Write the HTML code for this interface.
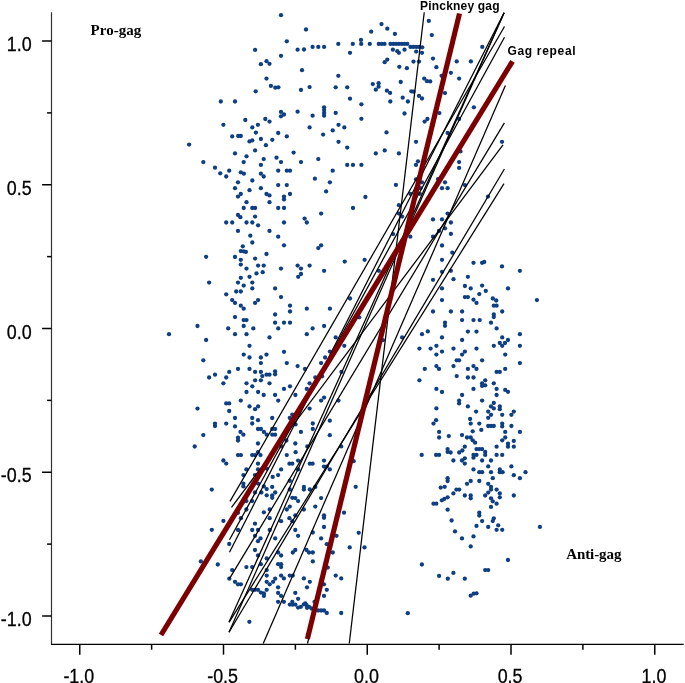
<!DOCTYPE html>
<html><head><meta charset="utf-8"><title>Gag rule votes</title>
<style>html,body{margin:0;padding:0;background:#fff}svg{display:block}</style></head>
<body>
<svg width="685" height="683" viewBox="0 0 685 683">
<rect width="685" height="683" fill="#fff"/>
<g fill="#0e3f83">
<circle cx="281" cy="15.2" r="2.15"/>
<circle cx="286.8" cy="41.3" r="2.15"/>
<circle cx="255.1" cy="49.9" r="2.15"/>
<circle cx="281" cy="55.8" r="2.15"/>
<circle cx="297.6" cy="49.7" r="2.15"/>
<circle cx="260.9" cy="64.2" r="2.15"/>
<circle cx="266.5" cy="61.2" r="2.15"/>
<circle cx="269.5" cy="63.8" r="2.15"/>
<circle cx="266.5" cy="78.6" r="2.15"/>
<circle cx="270.9" cy="85.9" r="2.15"/>
<circle cx="275.3" cy="87.7" r="2.15"/>
<circle cx="278.4" cy="87.3" r="2.15"/>
<circle cx="255.7" cy="91.3" r="2.15"/>
<circle cx="220.8" cy="101.5" r="2.15"/>
<circle cx="235" cy="101.5" r="2.15"/>
<circle cx="281" cy="111.9" r="2.15"/>
<circle cx="284" cy="114.5" r="2.15"/>
<circle cx="281" cy="116.3" r="2.15"/>
<circle cx="297.6" cy="111.7" r="2.15"/>
<circle cx="265.3" cy="119" r="2.15"/>
<circle cx="269.5" cy="121.6" r="2.15"/>
<circle cx="245.3" cy="120" r="2.15"/>
<circle cx="223.4" cy="124.8" r="2.15"/>
<circle cx="257.9" cy="124.8" r="2.15"/>
<circle cx="252.3" cy="127.4" r="2.15"/>
<circle cx="255.9" cy="132.6" r="2.15"/>
<circle cx="278.2" cy="133" r="2.15"/>
<circle cx="232.2" cy="136.4" r="2.15"/>
<circle cx="238.2" cy="136" r="2.15"/>
<circle cx="240.8" cy="136" r="2.15"/>
<circle cx="286.8" cy="136.4" r="2.15"/>
<circle cx="306" cy="29.5" r="2.15"/>
<circle cx="381.5" cy="24.1" r="2.15"/>
<circle cx="387.3" cy="28.7" r="2.15"/>
<circle cx="371.2" cy="31.7" r="2.15"/>
<circle cx="394.9" cy="33.9" r="2.15"/>
<circle cx="428.8" cy="20.9" r="2.15"/>
<circle cx="431.8" cy="35.1" r="2.15"/>
<circle cx="361" cy="39.9" r="2.15"/>
<circle cx="338.3" cy="43.9" r="2.15"/>
<circle cx="352.8" cy="43.9" r="2.15"/>
<circle cx="361.2" cy="43.9" r="2.15"/>
<circle cx="369.8" cy="43.9" r="2.15"/>
<circle cx="378.8" cy="43.9" r="2.15"/>
<circle cx="381.7" cy="43.9" r="2.15"/>
<circle cx="384.5" cy="43.9" r="2.15"/>
<circle cx="390.5" cy="43.9" r="2.15"/>
<circle cx="393.3" cy="43.9" r="2.15"/>
<circle cx="396.1" cy="43.9" r="2.15"/>
<circle cx="398.9" cy="43.9" r="2.15"/>
<circle cx="401.7" cy="43.9" r="2.15"/>
<circle cx="404.5" cy="43.9" r="2.15"/>
<circle cx="407.3" cy="43.9" r="2.15"/>
<circle cx="410.5" cy="46.9" r="2.15"/>
<circle cx="413.3" cy="46.9" r="2.15"/>
<circle cx="416.2" cy="46.9" r="2.15"/>
<circle cx="419" cy="46.9" r="2.15"/>
<circle cx="422.2" cy="47.3" r="2.15"/>
<circle cx="304" cy="49.5" r="2.15"/>
<circle cx="312.6" cy="46.9" r="2.15"/>
<circle cx="318.3" cy="46.9" r="2.15"/>
<circle cx="324.1" cy="46.9" r="2.15"/>
<circle cx="350" cy="52.8" r="2.15"/>
<circle cx="392.9" cy="49.7" r="2.15"/>
<circle cx="397.3" cy="51.2" r="2.15"/>
<circle cx="398.9" cy="52.8" r="2.15"/>
<circle cx="404.5" cy="49.7" r="2.15"/>
<circle cx="416.2" cy="51.6" r="2.15"/>
<circle cx="422" cy="52.8" r="2.15"/>
<circle cx="433" cy="58.6" r="2.15"/>
<circle cx="387.3" cy="59.6" r="2.15"/>
<circle cx="384.7" cy="62.2" r="2.15"/>
<circle cx="413.5" cy="61.6" r="2.15"/>
<circle cx="419" cy="61.6" r="2.15"/>
<circle cx="399.3" cy="66.8" r="2.15"/>
<circle cx="406.9" cy="68.2" r="2.15"/>
<circle cx="302" cy="70.2" r="2.15"/>
<circle cx="338.3" cy="75.8" r="2.15"/>
<circle cx="424.2" cy="78.6" r="2.15"/>
<circle cx="427" cy="81.2" r="2.15"/>
<circle cx="430.2" cy="81.4" r="2.15"/>
<circle cx="400.7" cy="82" r="2.15"/>
<circle cx="372.8" cy="84.1" r="2.15"/>
<circle cx="378.6" cy="83.2" r="2.15"/>
<circle cx="378.6" cy="86.7" r="2.15"/>
<circle cx="375.8" cy="89.7" r="2.15"/>
<circle cx="309.6" cy="87.1" r="2.15"/>
<circle cx="301" cy="89.9" r="2.15"/>
<circle cx="335.7" cy="87.3" r="2.15"/>
<circle cx="347.2" cy="87.3" r="2.15"/>
<circle cx="386.9" cy="90.7" r="2.15"/>
<circle cx="390.1" cy="92.9" r="2.15"/>
<circle cx="411.3" cy="91.3" r="2.15"/>
<circle cx="413.5" cy="91.7" r="2.15"/>
<circle cx="419" cy="95.9" r="2.15"/>
<circle cx="422" cy="98.5" r="2.15"/>
<circle cx="402.7" cy="97.7" r="2.15"/>
<circle cx="407.9" cy="101.5" r="2.15"/>
<circle cx="390.3" cy="101.5" r="2.15"/>
<circle cx="350" cy="98.7" r="2.15"/>
<circle cx="361.4" cy="104.3" r="2.15"/>
<circle cx="312.6" cy="115.7" r="2.15"/>
<circle cx="324.1" cy="107.3" r="2.15"/>
<circle cx="324.1" cy="110.1" r="2.15"/>
<circle cx="324.1" cy="112.9" r="2.15"/>
<circle cx="324.1" cy="115.7" r="2.15"/>
<circle cx="335.7" cy="112.9" r="2.15"/>
<circle cx="361.4" cy="118.8" r="2.15"/>
<circle cx="404.5" cy="113.5" r="2.15"/>
<circle cx="427.4" cy="119" r="2.15"/>
<circle cx="424.6" cy="121.6" r="2.15"/>
<circle cx="309.6" cy="127.4" r="2.15"/>
<circle cx="338.5" cy="124.8" r="2.15"/>
<circle cx="344.3" cy="127.4" r="2.15"/>
<circle cx="332.7" cy="130.4" r="2.15"/>
<circle cx="323.1" cy="134.6" r="2.15"/>
<circle cx="386.5" cy="132.4" r="2.15"/>
<circle cx="482.3" cy="46.9" r="2.15"/>
<circle cx="456.7" cy="61.4" r="2.15"/>
<circle cx="470.9" cy="61.4" r="2.15"/>
<circle cx="436.4" cy="67.2" r="2.15"/>
<circle cx="450.9" cy="72.8" r="2.15"/>
<circle cx="441.6" cy="75.8" r="2.15"/>
<circle cx="459.1" cy="78.6" r="2.15"/>
<circle cx="445" cy="93.1" r="2.15"/>
<circle cx="473.9" cy="107.3" r="2.15"/>
<circle cx="439.4" cy="113.1" r="2.15"/>
<circle cx="459.1" cy="119" r="2.15"/>
<circle cx="447.6" cy="133" r="2.15"/>
<circle cx="189.1" cy="144.6" r="2.15"/>
<circle cx="249.5" cy="141.4" r="2.15"/>
<circle cx="252.3" cy="140.4" r="2.15"/>
<circle cx="260.9" cy="139" r="2.15"/>
<circle cx="272.3" cy="139.8" r="2.15"/>
<circle cx="265.9" cy="145.2" r="2.15"/>
<circle cx="255.1" cy="150.4" r="2.15"/>
<circle cx="235" cy="153.4" r="2.15"/>
<circle cx="246.5" cy="156.3" r="2.15"/>
<circle cx="293.6" cy="152.6" r="2.15"/>
<circle cx="263.7" cy="159.1" r="2.15"/>
<circle cx="276.5" cy="157.7" r="2.15"/>
<circle cx="281" cy="162.1" r="2.15"/>
<circle cx="243.7" cy="162.1" r="2.15"/>
<circle cx="203.3" cy="162.1" r="2.15"/>
<circle cx="260.9" cy="164.9" r="2.15"/>
<circle cx="215" cy="167.7" r="2.15"/>
<circle cx="229.2" cy="170.7" r="2.15"/>
<circle cx="220.2" cy="173.3" r="2.15"/>
<circle cx="226.2" cy="176.5" r="2.15"/>
<circle cx="240.8" cy="172.3" r="2.15"/>
<circle cx="243.9" cy="173.7" r="2.15"/>
<circle cx="260.9" cy="173.7" r="2.15"/>
<circle cx="263.7" cy="176.5" r="2.15"/>
<circle cx="278.2" cy="170.7" r="2.15"/>
<circle cx="286.8" cy="170.7" r="2.15"/>
<circle cx="290" cy="170.7" r="2.15"/>
<circle cx="252.3" cy="180.5" r="2.15"/>
<circle cx="238" cy="182.3" r="2.15"/>
<circle cx="235" cy="188.2" r="2.15"/>
<circle cx="249.5" cy="190.2" r="2.15"/>
<circle cx="260.9" cy="188.2" r="2.15"/>
<circle cx="278.2" cy="185.1" r="2.15"/>
<circle cx="286.8" cy="185.1" r="2.15"/>
<circle cx="240.8" cy="194" r="2.15"/>
<circle cx="238" cy="196.6" r="2.15"/>
<circle cx="266.5" cy="194" r="2.15"/>
<circle cx="269.5" cy="195.4" r="2.15"/>
<circle cx="290" cy="194" r="2.15"/>
<circle cx="284" cy="196.6" r="2.15"/>
<circle cx="284" cy="199.4" r="2.15"/>
<circle cx="246.5" cy="202.2" r="2.15"/>
<circle cx="269.5" cy="202.2" r="2.15"/>
<circle cx="243.7" cy="208" r="2.15"/>
<circle cx="252.3" cy="208" r="2.15"/>
<circle cx="255.1" cy="208" r="2.15"/>
<circle cx="278.2" cy="208" r="2.15"/>
<circle cx="284" cy="208" r="2.15"/>
<circle cx="238" cy="215" r="2.15"/>
<circle cx="240.4" cy="217.2" r="2.15"/>
<circle cx="255.1" cy="216.6" r="2.15"/>
<circle cx="226.2" cy="222.5" r="2.15"/>
<circle cx="232.2" cy="222.5" r="2.15"/>
<circle cx="246.5" cy="222.5" r="2.15"/>
<circle cx="252.3" cy="222.5" r="2.15"/>
<circle cx="258.1" cy="225.3" r="2.15"/>
<circle cx="284" cy="222.5" r="2.15"/>
<circle cx="238" cy="230.9" r="2.15"/>
<circle cx="269.5" cy="230.9" r="2.15"/>
<circle cx="250.3" cy="235.7" r="2.15"/>
<circle cx="278.2" cy="236.7" r="2.15"/>
<circle cx="252.3" cy="242.5" r="2.15"/>
<circle cx="284" cy="245.3" r="2.15"/>
<circle cx="242.8" cy="246.3" r="2.15"/>
<circle cx="240.8" cy="251.1" r="2.15"/>
<circle cx="243.7" cy="251.3" r="2.15"/>
<circle cx="245.9" cy="251.9" r="2.15"/>
<circle cx="266.5" cy="254" r="2.15"/>
<circle cx="206.1" cy="256.8" r="2.15"/>
<circle cx="235" cy="257" r="2.15"/>
<circle cx="240.8" cy="259.8" r="2.15"/>
<circle cx="255.1" cy="258.6" r="2.15"/>
<circle cx="240.8" cy="264.6" r="2.15"/>
<circle cx="258.1" cy="265.6" r="2.15"/>
<circle cx="263.7" cy="265.6" r="2.15"/>
<circle cx="297.6" cy="265.6" r="2.15"/>
<circle cx="246.5" cy="268.6" r="2.15"/>
<circle cx="281" cy="268.6" r="2.15"/>
<circle cx="256.5" cy="273.4" r="2.15"/>
<circle cx="262.7" cy="272.2" r="2.15"/>
<circle cx="338.5" cy="141.8" r="2.15"/>
<circle cx="347.2" cy="147.6" r="2.15"/>
<circle cx="416" cy="141.8" r="2.15"/>
<circle cx="384.7" cy="150.4" r="2.15"/>
<circle cx="375.8" cy="153.4" r="2.15"/>
<circle cx="398.9" cy="153.4" r="2.15"/>
<circle cx="301" cy="162.1" r="2.15"/>
<circle cx="318.3" cy="159.1" r="2.15"/>
<circle cx="418" cy="161.3" r="2.15"/>
<circle cx="416" cy="164.9" r="2.15"/>
<circle cx="347.2" cy="164.9" r="2.15"/>
<circle cx="353" cy="164.9" r="2.15"/>
<circle cx="361.4" cy="164.9" r="2.15"/>
<circle cx="332.7" cy="170.7" r="2.15"/>
<circle cx="314.9" cy="178.7" r="2.15"/>
<circle cx="329.9" cy="182.3" r="2.15"/>
<circle cx="416" cy="179.3" r="2.15"/>
<circle cx="422" cy="182.3" r="2.15"/>
<circle cx="395.9" cy="184.9" r="2.15"/>
<circle cx="326.1" cy="191.4" r="2.15"/>
<circle cx="410.3" cy="193.8" r="2.15"/>
<circle cx="419.8" cy="193.8" r="2.15"/>
<circle cx="420.4" cy="188.2" r="2.15"/>
<circle cx="365.4" cy="197" r="2.15"/>
<circle cx="398.9" cy="205.2" r="2.15"/>
<circle cx="353" cy="208" r="2.15"/>
<circle cx="321.1" cy="213.6" r="2.15"/>
<circle cx="398.9" cy="213.6" r="2.15"/>
<circle cx="402.1" cy="216.6" r="2.15"/>
<circle cx="304.6" cy="218.6" r="2.15"/>
<circle cx="306.8" cy="222.5" r="2.15"/>
<circle cx="433" cy="219.4" r="2.15"/>
<circle cx="393.1" cy="234.1" r="2.15"/>
<circle cx="410.3" cy="236.7" r="2.15"/>
<circle cx="433" cy="236.7" r="2.15"/>
<circle cx="321.1" cy="245.3" r="2.15"/>
<circle cx="318.3" cy="248.1" r="2.15"/>
<circle cx="364.6" cy="259.8" r="2.15"/>
<circle cx="344.7" cy="261.6" r="2.15"/>
<circle cx="301" cy="268.6" r="2.15"/>
<circle cx="309.6" cy="265.6" r="2.15"/>
<circle cx="324.1" cy="270.8" r="2.15"/>
<circle cx="378.8" cy="270.8" r="2.15"/>
<circle cx="301" cy="274" r="2.15"/>
<circle cx="502" cy="141.8" r="2.15"/>
<circle cx="460.5" cy="151.4" r="2.15"/>
<circle cx="459.1" cy="162.1" r="2.15"/>
<circle cx="459.1" cy="167.9" r="2.15"/>
<circle cx="445" cy="182.3" r="2.15"/>
<circle cx="438" cy="179.1" r="2.15"/>
<circle cx="442" cy="188.2" r="2.15"/>
<circle cx="447.6" cy="188.2" r="2.15"/>
<circle cx="464.9" cy="185.1" r="2.15"/>
<circle cx="488" cy="196.6" r="2.15"/>
<circle cx="447.6" cy="213.6" r="2.15"/>
<circle cx="442" cy="219.4" r="2.15"/>
<circle cx="450.9" cy="222.5" r="2.15"/>
<circle cx="445" cy="228.3" r="2.15"/>
<circle cx="439" cy="230.9" r="2.15"/>
<circle cx="450.9" cy="233.9" r="2.15"/>
<circle cx="442" cy="245.5" r="2.15"/>
<circle cx="452.3" cy="252.7" r="2.15"/>
<circle cx="442" cy="259.8" r="2.15"/>
<circle cx="473.5" cy="262.8" r="2.15"/>
<circle cx="482.1" cy="262.8" r="2.15"/>
<circle cx="484.2" cy="262" r="2.15"/>
<circle cx="502" cy="266.4" r="2.15"/>
<circle cx="519.9" cy="270.8" r="2.15"/>
<circle cx="442" cy="271.8" r="2.15"/>
<circle cx="450.9" cy="270.8" r="2.15"/>
<circle cx="249.5" cy="276.8" r="2.15"/>
<circle cx="240.8" cy="277.8" r="2.15"/>
<circle cx="209.1" cy="282.6" r="2.15"/>
<circle cx="238" cy="282.6" r="2.15"/>
<circle cx="243.7" cy="285.6" r="2.15"/>
<circle cx="252.3" cy="282.6" r="2.15"/>
<circle cx="252.3" cy="288.4" r="2.15"/>
<circle cx="275.1" cy="288.4" r="2.15"/>
<circle cx="236.2" cy="291.5" r="2.15"/>
<circle cx="240.8" cy="291.5" r="2.15"/>
<circle cx="226.2" cy="294.3" r="2.15"/>
<circle cx="281" cy="297.1" r="2.15"/>
<circle cx="232.2" cy="300.1" r="2.15"/>
<circle cx="235" cy="302.9" r="2.15"/>
<circle cx="258.1" cy="300.1" r="2.15"/>
<circle cx="255.1" cy="302.9" r="2.15"/>
<circle cx="240.8" cy="305.7" r="2.15"/>
<circle cx="243.7" cy="308.7" r="2.15"/>
<circle cx="290" cy="305.7" r="2.15"/>
<circle cx="290" cy="311.5" r="2.15"/>
<circle cx="275.1" cy="314.5" r="2.15"/>
<circle cx="235" cy="317.1" r="2.15"/>
<circle cx="243.7" cy="320.1" r="2.15"/>
<circle cx="246.5" cy="320.1" r="2.15"/>
<circle cx="275.1" cy="322.7" r="2.15"/>
<circle cx="284" cy="322.7" r="2.15"/>
<circle cx="290" cy="322.7" r="2.15"/>
<circle cx="197.5" cy="326" r="2.15"/>
<circle cx="243.7" cy="326" r="2.15"/>
<circle cx="228.2" cy="328.4" r="2.15"/>
<circle cx="253.3" cy="328.4" r="2.15"/>
<circle cx="278.2" cy="328.4" r="2.15"/>
<circle cx="169" cy="334.2" r="2.15"/>
<circle cx="235" cy="334.2" r="2.15"/>
<circle cx="246.5" cy="334.2" r="2.15"/>
<circle cx="206.1" cy="340" r="2.15"/>
<circle cx="269.5" cy="337.4" r="2.15"/>
<circle cx="249.5" cy="345.8" r="2.15"/>
<circle cx="284" cy="351.8" r="2.15"/>
<circle cx="243.7" cy="354.6" r="2.15"/>
<circle cx="249.5" cy="357.5" r="2.15"/>
<circle cx="260.9" cy="357.5" r="2.15"/>
<circle cx="266.5" cy="354.6" r="2.15"/>
<circle cx="203.3" cy="360.3" r="2.15"/>
<circle cx="260.9" cy="363.1" r="2.15"/>
<circle cx="286.8" cy="363.1" r="2.15"/>
<circle cx="297.6" cy="366.1" r="2.15"/>
<circle cx="238" cy="368.9" r="2.15"/>
<circle cx="249.5" cy="368.9" r="2.15"/>
<circle cx="229.2" cy="371.9" r="2.15"/>
<circle cx="255.1" cy="371.9" r="2.15"/>
<circle cx="260.9" cy="371.9" r="2.15"/>
<circle cx="275.1" cy="371.3" r="2.15"/>
<circle cx="275.1" cy="374.3" r="2.15"/>
<circle cx="266.5" cy="374.7" r="2.15"/>
<circle cx="269.5" cy="374.7" r="2.15"/>
<circle cx="262.3" cy="376.1" r="2.15"/>
<circle cx="215" cy="374.7" r="2.15"/>
<circle cx="209.1" cy="377.5" r="2.15"/>
<circle cx="226.2" cy="377.5" r="2.15"/>
<circle cx="255.1" cy="380.3" r="2.15"/>
<circle cx="260.9" cy="380.3" r="2.15"/>
<circle cx="223.4" cy="383.3" r="2.15"/>
<circle cx="246.5" cy="383.3" r="2.15"/>
<circle cx="269.5" cy="383.3" r="2.15"/>
<circle cx="252.3" cy="386.3" r="2.15"/>
<circle cx="290" cy="386.3" r="2.15"/>
<circle cx="284" cy="388.9" r="2.15"/>
<circle cx="246.5" cy="392" r="2.15"/>
<circle cx="258.1" cy="392" r="2.15"/>
<circle cx="263.7" cy="395" r="2.15"/>
<circle cx="275.1" cy="395" r="2.15"/>
<circle cx="295.4" cy="395" r="2.15"/>
<circle cx="240.8" cy="400.6" r="2.15"/>
<circle cx="278.2" cy="400.6" r="2.15"/>
<circle cx="226.2" cy="403.4" r="2.15"/>
<circle cx="229.2" cy="403.4" r="2.15"/>
<circle cx="249.5" cy="406.4" r="2.15"/>
<circle cx="258.1" cy="406.4" r="2.15"/>
<circle cx="197.5" cy="408.6" r="2.15"/>
<circle cx="255.1" cy="409.2" r="2.15"/>
<circle cx="229.2" cy="411" r="2.15"/>
<circle cx="298.2" cy="276.8" r="2.15"/>
<circle cx="433" cy="279.8" r="2.15"/>
<circle cx="350" cy="298.5" r="2.15"/>
<circle cx="306.8" cy="308.7" r="2.15"/>
<circle cx="329.9" cy="308.7" r="2.15"/>
<circle cx="433" cy="311.5" r="2.15"/>
<circle cx="359.2" cy="317.3" r="2.15"/>
<circle cx="324.1" cy="326" r="2.15"/>
<circle cx="312.6" cy="328.4" r="2.15"/>
<circle cx="306.8" cy="334.2" r="2.15"/>
<circle cx="427.8" cy="331.4" r="2.15"/>
<circle cx="422" cy="334.2" r="2.15"/>
<circle cx="335.7" cy="337.4" r="2.15"/>
<circle cx="402.1" cy="337.4" r="2.15"/>
<circle cx="382.9" cy="340.2" r="2.15"/>
<circle cx="344.3" cy="345.8" r="2.15"/>
<circle cx="419.4" cy="348.6" r="2.15"/>
<circle cx="430.6" cy="348.6" r="2.15"/>
<circle cx="329.9" cy="351.6" r="2.15"/>
<circle cx="325.1" cy="357.5" r="2.15"/>
<circle cx="321.1" cy="363.1" r="2.15"/>
<circle cx="305" cy="368.9" r="2.15"/>
<circle cx="424.8" cy="368.9" r="2.15"/>
<circle cx="341.5" cy="371.9" r="2.15"/>
<circle cx="315.3" cy="377.5" r="2.15"/>
<circle cx="322.1" cy="376.3" r="2.15"/>
<circle cx="419.4" cy="380.3" r="2.15"/>
<circle cx="309.6" cy="383.3" r="2.15"/>
<circle cx="306.8" cy="388.9" r="2.15"/>
<circle cx="324.1" cy="397.6" r="2.15"/>
<circle cx="321.1" cy="400.6" r="2.15"/>
<circle cx="338.5" cy="400.6" r="2.15"/>
<circle cx="309.6" cy="408.6" r="2.15"/>
<circle cx="467.9" cy="276.8" r="2.15"/>
<circle cx="453.5" cy="279.2" r="2.15"/>
<circle cx="464.9" cy="286" r="2.15"/>
<circle cx="470.7" cy="288.4" r="2.15"/>
<circle cx="482.1" cy="285.6" r="2.15"/>
<circle cx="442" cy="288.4" r="2.15"/>
<circle cx="485.8" cy="290.9" r="2.15"/>
<circle cx="508" cy="288.4" r="2.15"/>
<circle cx="479.3" cy="294.1" r="2.15"/>
<circle cx="464.9" cy="297.1" r="2.15"/>
<circle cx="467.9" cy="297.1" r="2.15"/>
<circle cx="473.5" cy="299.7" r="2.15"/>
<circle cx="476.5" cy="302.9" r="2.15"/>
<circle cx="492.8" cy="298.5" r="2.15"/>
<circle cx="496.2" cy="300.5" r="2.15"/>
<circle cx="442" cy="300.1" r="2.15"/>
<circle cx="536.9" cy="300.1" r="2.15"/>
<circle cx="493.8" cy="305.7" r="2.15"/>
<circle cx="496.6" cy="305.7" r="2.15"/>
<circle cx="450.9" cy="311.5" r="2.15"/>
<circle cx="462.1" cy="311.5" r="2.15"/>
<circle cx="502.2" cy="311.5" r="2.15"/>
<circle cx="493.8" cy="314.5" r="2.15"/>
<circle cx="493.8" cy="317.1" r="2.15"/>
<circle cx="462.1" cy="320.1" r="2.15"/>
<circle cx="473.5" cy="320.1" r="2.15"/>
<circle cx="479.7" cy="320.1" r="2.15"/>
<circle cx="491" cy="322.7" r="2.15"/>
<circle cx="445" cy="322.7" r="2.15"/>
<circle cx="445" cy="325.8" r="2.15"/>
<circle cx="496.6" cy="328.4" r="2.15"/>
<circle cx="467.9" cy="331.6" r="2.15"/>
<circle cx="476.5" cy="331.6" r="2.15"/>
<circle cx="519.9" cy="334.2" r="2.15"/>
<circle cx="442" cy="337.4" r="2.15"/>
<circle cx="502.2" cy="337.4" r="2.15"/>
<circle cx="508" cy="340" r="2.15"/>
<circle cx="462.1" cy="340" r="2.15"/>
<circle cx="499.8" cy="343" r="2.15"/>
<circle cx="505" cy="343" r="2.15"/>
<circle cx="502.2" cy="345.8" r="2.15"/>
<circle cx="493.8" cy="345.8" r="2.15"/>
<circle cx="519.9" cy="345.8" r="2.15"/>
<circle cx="436.4" cy="345.8" r="2.15"/>
<circle cx="453.5" cy="348.6" r="2.15"/>
<circle cx="476.5" cy="348.6" r="2.15"/>
<circle cx="464.9" cy="351.6" r="2.15"/>
<circle cx="442" cy="351.6" r="2.15"/>
<circle cx="462.1" cy="354.6" r="2.15"/>
<circle cx="436.4" cy="354.6" r="2.15"/>
<circle cx="505.2" cy="354.6" r="2.15"/>
<circle cx="456.7" cy="360.3" r="2.15"/>
<circle cx="459.1" cy="360.3" r="2.15"/>
<circle cx="482.1" cy="360.3" r="2.15"/>
<circle cx="519.9" cy="363.1" r="2.15"/>
<circle cx="436.4" cy="366.1" r="2.15"/>
<circle cx="439" cy="368.9" r="2.15"/>
<circle cx="453.5" cy="366.1" r="2.15"/>
<circle cx="473.5" cy="366.1" r="2.15"/>
<circle cx="476.5" cy="368.9" r="2.15"/>
<circle cx="467.9" cy="368.9" r="2.15"/>
<circle cx="505.2" cy="368.9" r="2.15"/>
<circle cx="496.6" cy="371.9" r="2.15"/>
<circle cx="499.8" cy="371.9" r="2.15"/>
<circle cx="456.7" cy="376.1" r="2.15"/>
<circle cx="467.9" cy="377.5" r="2.15"/>
<circle cx="473.5" cy="377.5" r="2.15"/>
<circle cx="485.2" cy="380.3" r="2.15"/>
<circle cx="482.1" cy="383.3" r="2.15"/>
<circle cx="482.1" cy="385.9" r="2.15"/>
<circle cx="485.2" cy="385.3" r="2.15"/>
<circle cx="493.8" cy="383.3" r="2.15"/>
<circle cx="436.4" cy="388.9" r="2.15"/>
<circle cx="442" cy="392" r="2.15"/>
<circle cx="473.5" cy="388.9" r="2.15"/>
<circle cx="496.6" cy="388.9" r="2.15"/>
<circle cx="505.2" cy="389.9" r="2.15"/>
<circle cx="508" cy="391.8" r="2.15"/>
<circle cx="462.1" cy="395" r="2.15"/>
<circle cx="496.6" cy="395" r="2.15"/>
<circle cx="459.1" cy="400.6" r="2.15"/>
<circle cx="459.1" cy="403.4" r="2.15"/>
<circle cx="482.1" cy="400.6" r="2.15"/>
<circle cx="493.8" cy="403" r="2.15"/>
<circle cx="491" cy="406.4" r="2.15"/>
<circle cx="493.8" cy="408.4" r="2.15"/>
<circle cx="499.8" cy="406.4" r="2.15"/>
<circle cx="499.8" cy="409.2" r="2.15"/>
<circle cx="467.9" cy="406.4" r="2.15"/>
<circle cx="436.4" cy="408.4" r="2.15"/>
<circle cx="476.1" cy="411.6" r="2.15"/>
<circle cx="488.2" cy="411.6" r="2.15"/>
<circle cx="513.8" cy="411.6" r="2.15"/>
<circle cx="215" cy="423.6" r="2.15"/>
<circle cx="215" cy="426" r="2.15"/>
<circle cx="226.2" cy="423.6" r="2.15"/>
<circle cx="203.3" cy="435.1" r="2.15"/>
<circle cx="194.7" cy="446.5" r="2.15"/>
<circle cx="223.4" cy="460.5" r="2.15"/>
<circle cx="226.2" cy="463.6" r="2.15"/>
<circle cx="211.8" cy="489.6" r="2.15"/>
<circle cx="223.4" cy="520.9" r="2.15"/>
<circle cx="211.8" cy="529.8" r="2.15"/>
<circle cx="229.2" cy="544" r="2.15"/>
<circle cx="235" cy="418" r="2.15"/>
<circle cx="252.2" cy="418" r="2.15"/>
<circle cx="258" cy="420.2" r="2.15"/>
<circle cx="272.2" cy="418" r="2.15"/>
<circle cx="289.8" cy="418" r="2.15"/>
<circle cx="292.3" cy="414.7" r="2.15"/>
<circle cx="329.8" cy="420.7" r="2.15"/>
<circle cx="312.8" cy="423.5" r="2.15"/>
<circle cx="235" cy="426.4" r="2.15"/>
<circle cx="252.2" cy="423.5" r="2.15"/>
<circle cx="258" cy="429" r="2.15"/>
<circle cx="260.9" cy="429" r="2.15"/>
<circle cx="263.9" cy="431.9" r="2.15"/>
<circle cx="266.7" cy="434.7" r="2.15"/>
<circle cx="272.2" cy="429" r="2.15"/>
<circle cx="275.1" cy="429" r="2.15"/>
<circle cx="272.2" cy="434.7" r="2.15"/>
<circle cx="275.1" cy="434.7" r="2.15"/>
<circle cx="240.5" cy="431.9" r="2.15"/>
<circle cx="243.4" cy="434.7" r="2.15"/>
<circle cx="238" cy="437.7" r="2.15"/>
<circle cx="238" cy="440.5" r="2.15"/>
<circle cx="258" cy="443.5" r="2.15"/>
<circle cx="300.9" cy="431.9" r="2.15"/>
<circle cx="312.8" cy="429" r="2.15"/>
<circle cx="329.8" cy="435.2" r="2.15"/>
<circle cx="295.6" cy="424.4" r="2.15"/>
<circle cx="286.4" cy="440.5" r="2.15"/>
<circle cx="295.3" cy="443.5" r="2.15"/>
<circle cx="281.4" cy="446.4" r="2.15"/>
<circle cx="307.3" cy="446.4" r="2.15"/>
<circle cx="341.2" cy="446.4" r="2.15"/>
<circle cx="295.6" cy="452.2" r="2.15"/>
<circle cx="258" cy="452.2" r="2.15"/>
<circle cx="238" cy="455.1" r="2.15"/>
<circle cx="240.9" cy="455.1" r="2.15"/>
<circle cx="252.2" cy="455.1" r="2.15"/>
<circle cx="255" cy="455.1" r="2.15"/>
<circle cx="260.5" cy="455.1" r="2.15"/>
<circle cx="286.8" cy="455.1" r="2.15"/>
<circle cx="298.1" cy="460.6" r="2.15"/>
<circle cx="324" cy="460.6" r="2.15"/>
<circle cx="289.4" cy="463.7" r="2.15"/>
<circle cx="292.3" cy="463.7" r="2.15"/>
<circle cx="309.8" cy="463.7" r="2.15"/>
<circle cx="312.6" cy="463.7" r="2.15"/>
<circle cx="258" cy="463.7" r="2.15"/>
<circle cx="324" cy="466.6" r="2.15"/>
<circle cx="329.8" cy="469.4" r="2.15"/>
<circle cx="326.8" cy="466.6" r="2.15"/>
<circle cx="246.4" cy="469.4" r="2.15"/>
<circle cx="258" cy="469.4" r="2.15"/>
<circle cx="266.7" cy="468.6" r="2.15"/>
<circle cx="281.1" cy="469.4" r="2.15"/>
<circle cx="298.1" cy="469.4" r="2.15"/>
<circle cx="243.4" cy="475.1" r="2.15"/>
<circle cx="255" cy="475.1" r="2.15"/>
<circle cx="278.1" cy="475.1" r="2.15"/>
<circle cx="272.7" cy="476.9" r="2.15"/>
<circle cx="289.8" cy="480.8" r="2.15"/>
<circle cx="243.4" cy="483.6" r="2.15"/>
<circle cx="243.4" cy="486.4" r="2.15"/>
<circle cx="258" cy="483.6" r="2.15"/>
<circle cx="263.9" cy="486.4" r="2.15"/>
<circle cx="266.7" cy="489.1" r="2.15"/>
<circle cx="272.2" cy="486.9" r="2.15"/>
<circle cx="303.9" cy="486.9" r="2.15"/>
<circle cx="303.9" cy="489.5" r="2.15"/>
<circle cx="315.3" cy="486.9" r="2.15"/>
<circle cx="309.8" cy="489.5" r="2.15"/>
<circle cx="289.8" cy="489.5" r="2.15"/>
<circle cx="255" cy="492.5" r="2.15"/>
<circle cx="261.4" cy="492.5" r="2.15"/>
<circle cx="266.7" cy="495.3" r="2.15"/>
<circle cx="275.2" cy="492.5" r="2.15"/>
<circle cx="272.2" cy="495.3" r="2.15"/>
<circle cx="272.2" cy="497.8" r="2.15"/>
<circle cx="292.3" cy="497.8" r="2.15"/>
<circle cx="295.3" cy="498.1" r="2.15"/>
<circle cx="298.1" cy="501.1" r="2.15"/>
<circle cx="321.1" cy="498.1" r="2.15"/>
<circle cx="246.4" cy="501.1" r="2.15"/>
<circle cx="252.2" cy="501.1" r="2.15"/>
<circle cx="289.8" cy="506.6" r="2.15"/>
<circle cx="315.3" cy="506.6" r="2.15"/>
<circle cx="286.8" cy="509.5" r="2.15"/>
<circle cx="303.9" cy="509.5" r="2.15"/>
<circle cx="269.7" cy="509.5" r="2.15"/>
<circle cx="246.4" cy="509.5" r="2.15"/>
<circle cx="263.9" cy="512.3" r="2.15"/>
<circle cx="238" cy="512.8" r="2.15"/>
<circle cx="324" cy="515.3" r="2.15"/>
<circle cx="324" cy="517.8" r="2.15"/>
<circle cx="295.3" cy="515.3" r="2.15"/>
<circle cx="289.4" cy="518.2" r="2.15"/>
<circle cx="269.7" cy="518.2" r="2.15"/>
<circle cx="240.9" cy="518.2" r="2.15"/>
<circle cx="281.1" cy="521.2" r="2.15"/>
<circle cx="255" cy="523.7" r="2.15"/>
<circle cx="292.3" cy="521.2" r="2.15"/>
<circle cx="238" cy="530" r="2.15"/>
<circle cx="252.2" cy="530" r="2.15"/>
<circle cx="258" cy="530" r="2.15"/>
<circle cx="269.7" cy="530" r="2.15"/>
<circle cx="255" cy="535.8" r="2.15"/>
<circle cx="260.5" cy="538.4" r="2.15"/>
<circle cx="258" cy="541.2" r="2.15"/>
<circle cx="275.2" cy="538.4" r="2.15"/>
<circle cx="295.3" cy="530" r="2.15"/>
<circle cx="298.1" cy="535.8" r="2.15"/>
<circle cx="312.8" cy="532.5" r="2.15"/>
<circle cx="324" cy="527" r="2.15"/>
<circle cx="321.1" cy="538.4" r="2.15"/>
<circle cx="336.5" cy="535.8" r="2.15"/>
<circle cx="326.8" cy="544.2" r="2.15"/>
<circle cx="255" cy="550" r="2.15"/>
<circle cx="258" cy="555.5" r="2.15"/>
<circle cx="278.1" cy="552.5" r="2.15"/>
<circle cx="281.1" cy="555.5" r="2.15"/>
<circle cx="266.7" cy="558.4" r="2.15"/>
<circle cx="295.3" cy="550" r="2.15"/>
<circle cx="292.8" cy="552.5" r="2.15"/>
<circle cx="306.5" cy="550" r="2.15"/>
<circle cx="309" cy="552.5" r="2.15"/>
<circle cx="312.8" cy="552.5" r="2.15"/>
<circle cx="332.8" cy="552.5" r="2.15"/>
<circle cx="312.8" cy="561.4" r="2.15"/>
<circle cx="260.9" cy="564.2" r="2.15"/>
<circle cx="278.1" cy="564.2" r="2.15"/>
<circle cx="281.1" cy="564.2" r="2.15"/>
<circle cx="281.1" cy="567.1" r="2.15"/>
<circle cx="246.4" cy="567.1" r="2.15"/>
<circle cx="252.2" cy="567.1" r="2.15"/>
<circle cx="232.2" cy="570.1" r="2.15"/>
<circle cx="266.7" cy="570.1" r="2.15"/>
<circle cx="327.8" cy="567.6" r="2.15"/>
<circle cx="266.7" cy="575.6" r="2.15"/>
<circle cx="281.1" cy="575.6" r="2.15"/>
<circle cx="283.9" cy="578.4" r="2.15"/>
<circle cx="289.8" cy="575.6" r="2.15"/>
<circle cx="292.8" cy="575.6" r="2.15"/>
<circle cx="303.9" cy="578.4" r="2.15"/>
<circle cx="335.7" cy="575.6" r="2.15"/>
<circle cx="341.2" cy="578.4" r="2.15"/>
<circle cx="229.3" cy="578.7" r="2.15"/>
<circle cx="235" cy="581.8" r="2.15"/>
<circle cx="238" cy="584.3" r="2.15"/>
<circle cx="240.9" cy="584.3" r="2.15"/>
<circle cx="275.2" cy="578.7" r="2.15"/>
<circle cx="273.1" cy="581.8" r="2.15"/>
<circle cx="266.7" cy="581.8" r="2.15"/>
<circle cx="269.7" cy="584.3" r="2.15"/>
<circle cx="309.8" cy="581.8" r="2.15"/>
<circle cx="324" cy="584.3" r="2.15"/>
<circle cx="278.1" cy="587.3" r="2.15"/>
<circle cx="307" cy="587.3" r="2.15"/>
<circle cx="252.2" cy="589.8" r="2.15"/>
<circle cx="255" cy="589.8" r="2.15"/>
<circle cx="258" cy="589.8" r="2.15"/>
<circle cx="260.9" cy="592.6" r="2.15"/>
<circle cx="263.9" cy="593.4" r="2.15"/>
<circle cx="266.7" cy="589.8" r="2.15"/>
<circle cx="263.9" cy="595.9" r="2.15"/>
<circle cx="326.8" cy="589.8" r="2.15"/>
<circle cx="324" cy="595.9" r="2.15"/>
<circle cx="278.1" cy="592.9" r="2.15"/>
<circle cx="281.1" cy="595.9" r="2.15"/>
<circle cx="295.3" cy="592.9" r="2.15"/>
<circle cx="298.1" cy="598.8" r="2.15"/>
<circle cx="278.1" cy="601.8" r="2.15"/>
<circle cx="283.9" cy="601.8" r="2.15"/>
<circle cx="292.3" cy="601.8" r="2.15"/>
<circle cx="289.8" cy="604.6" r="2.15"/>
<circle cx="295.3" cy="604.6" r="2.15"/>
<circle cx="298.1" cy="607.6" r="2.15"/>
<circle cx="300.9" cy="606.8" r="2.15"/>
<circle cx="303.9" cy="604.3" r="2.15"/>
<circle cx="306.5" cy="605.1" r="2.15"/>
<circle cx="309" cy="606.8" r="2.15"/>
<circle cx="311.5" cy="608.5" r="2.15"/>
<circle cx="314.5" cy="601.8" r="2.15"/>
<circle cx="318.1" cy="610.5" r="2.15"/>
<circle cx="321.1" cy="610.5" r="2.15"/>
<circle cx="324" cy="610.5" r="2.15"/>
<circle cx="326.8" cy="613" r="2.15"/>
<circle cx="341.2" cy="613" r="2.15"/>
<circle cx="249.4" cy="621.8" r="2.15"/>
<circle cx="200.9" cy="561.4" r="2.15"/>
<circle cx="217.8" cy="564.5" r="2.15"/>
<circle cx="353.7" cy="461.2" r="2.15"/>
<circle cx="355.7" cy="486.8" r="2.15"/>
<circle cx="344" cy="512.7" r="2.15"/>
<circle cx="358.7" cy="532.8" r="2.15"/>
<circle cx="349.7" cy="547.4" r="2.15"/>
<circle cx="364.5" cy="547.4" r="2.15"/>
<circle cx="436.1" cy="420.2" r="2.15"/>
<circle cx="433.5" cy="423.6" r="2.15"/>
<circle cx="439.1" cy="431.9" r="2.15"/>
<circle cx="439.1" cy="437.5" r="2.15"/>
<circle cx="448.8" cy="436.1" r="2.15"/>
<circle cx="462" cy="435.1" r="2.15"/>
<circle cx="467" cy="437.5" r="2.15"/>
<circle cx="421.7" cy="454.9" r="2.15"/>
<circle cx="436.1" cy="454.9" r="2.15"/>
<circle cx="439.1" cy="454.9" r="2.15"/>
<circle cx="447.6" cy="449.1" r="2.15"/>
<circle cx="447.6" cy="451.9" r="2.15"/>
<circle cx="450.6" cy="452.5" r="2.15"/>
<circle cx="459.2" cy="452.5" r="2.15"/>
<circle cx="462.4" cy="450.5" r="2.15"/>
<circle cx="464.8" cy="446.7" r="2.15"/>
<circle cx="453.4" cy="460.5" r="2.15"/>
<circle cx="462" cy="460.5" r="2.15"/>
<circle cx="464.8" cy="458.3" r="2.15"/>
<circle cx="464.8" cy="463.6" r="2.15"/>
<circle cx="447.6" cy="478.2" r="2.15"/>
<circle cx="447.6" cy="481" r="2.15"/>
<circle cx="440.7" cy="487.6" r="2.15"/>
<circle cx="444.7" cy="486.8" r="2.15"/>
<circle cx="467" cy="483.8" r="2.15"/>
<circle cx="456.4" cy="489.6" r="2.15"/>
<circle cx="459.2" cy="489.6" r="2.15"/>
<circle cx="453.4" cy="493.4" r="2.15"/>
<circle cx="464.8" cy="495.5" r="2.15"/>
<circle cx="447.6" cy="497.3" r="2.15"/>
<circle cx="441.9" cy="500.3" r="2.15"/>
<circle cx="444.3" cy="498.9" r="2.15"/>
<circle cx="433.5" cy="503.7" r="2.15"/>
<circle cx="436.3" cy="503.7" r="2.15"/>
<circle cx="447.6" cy="509.7" r="2.15"/>
<circle cx="451.6" cy="520.5" r="2.15"/>
<circle cx="455" cy="531.4" r="2.15"/>
<circle cx="462" cy="538.4" r="2.15"/>
<circle cx="491" cy="414.8" r="2.15"/>
<circle cx="488.2" cy="417.8" r="2.15"/>
<circle cx="502.2" cy="414.8" r="2.15"/>
<circle cx="511.4" cy="414.8" r="2.15"/>
<circle cx="470.1" cy="419" r="2.15"/>
<circle cx="470.7" cy="423.6" r="2.15"/>
<circle cx="479.3" cy="423.6" r="2.15"/>
<circle cx="488.2" cy="426" r="2.15"/>
<circle cx="491" cy="426" r="2.15"/>
<circle cx="493.8" cy="426" r="2.15"/>
<circle cx="502.2" cy="423.6" r="2.15"/>
<circle cx="502.2" cy="426.4" r="2.15"/>
<circle cx="511.4" cy="426" r="2.15"/>
<circle cx="472.7" cy="431.3" r="2.15"/>
<circle cx="481.3" cy="429.9" r="2.15"/>
<circle cx="505.2" cy="431.9" r="2.15"/>
<circle cx="519.9" cy="431.9" r="2.15"/>
<circle cx="470.7" cy="437.5" r="2.15"/>
<circle cx="472.7" cy="440.3" r="2.15"/>
<circle cx="475.1" cy="442.7" r="2.15"/>
<circle cx="505.2" cy="437.5" r="2.15"/>
<circle cx="502.2" cy="440.3" r="2.15"/>
<circle cx="513.8" cy="440.9" r="2.15"/>
<circle cx="508" cy="443.7" r="2.15"/>
<circle cx="508" cy="446.7" r="2.15"/>
<circle cx="513.8" cy="446.7" r="2.15"/>
<circle cx="496.6" cy="446.7" r="2.15"/>
<circle cx="476.5" cy="449.1" r="2.15"/>
<circle cx="479.3" cy="449.1" r="2.15"/>
<circle cx="482.1" cy="449.1" r="2.15"/>
<circle cx="485.2" cy="451.9" r="2.15"/>
<circle cx="485.2" cy="454.9" r="2.15"/>
<circle cx="476.5" cy="454.9" r="2.15"/>
<circle cx="473.5" cy="454.9" r="2.15"/>
<circle cx="473.5" cy="457.7" r="2.15"/>
<circle cx="496.6" cy="454.9" r="2.15"/>
<circle cx="502.2" cy="454.9" r="2.15"/>
<circle cx="482.1" cy="460.5" r="2.15"/>
<circle cx="491" cy="460.5" r="2.15"/>
<circle cx="488.2" cy="466.4" r="2.15"/>
<circle cx="511.4" cy="466.4" r="2.15"/>
<circle cx="473.5" cy="469.4" r="2.15"/>
<circle cx="479.3" cy="472.2" r="2.15"/>
<circle cx="482.1" cy="472.2" r="2.15"/>
<circle cx="491" cy="472.2" r="2.15"/>
<circle cx="499.8" cy="469.4" r="2.15"/>
<circle cx="499.8" cy="472.2" r="2.15"/>
<circle cx="502.6" cy="472.2" r="2.15"/>
<circle cx="525.5" cy="472.2" r="2.15"/>
<circle cx="513.8" cy="475.2" r="2.15"/>
<circle cx="519.9" cy="478.2" r="2.15"/>
<circle cx="492.8" cy="478.2" r="2.15"/>
<circle cx="479.3" cy="481" r="2.15"/>
<circle cx="470.7" cy="481" r="2.15"/>
<circle cx="488.2" cy="483.8" r="2.15"/>
<circle cx="491" cy="486.8" r="2.15"/>
<circle cx="491" cy="489.6" r="2.15"/>
<circle cx="496.6" cy="489.6" r="2.15"/>
<circle cx="470.7" cy="495.5" r="2.15"/>
<circle cx="470.7" cy="498.3" r="2.15"/>
<circle cx="488.2" cy="492.6" r="2.15"/>
<circle cx="485.2" cy="495.5" r="2.15"/>
<circle cx="499.8" cy="493.4" r="2.15"/>
<circle cx="499.8" cy="497.3" r="2.15"/>
<circle cx="513.8" cy="495.5" r="2.15"/>
<circle cx="491" cy="498.3" r="2.15"/>
<circle cx="492.8" cy="501.3" r="2.15"/>
<circle cx="496.6" cy="503.7" r="2.15"/>
<circle cx="491" cy="506.9" r="2.15"/>
<circle cx="479.3" cy="512.7" r="2.15"/>
<circle cx="479.3" cy="515.5" r="2.15"/>
<circle cx="493.8" cy="518.3" r="2.15"/>
<circle cx="492.8" cy="521.1" r="2.15"/>
<circle cx="482.1" cy="521.1" r="2.15"/>
<circle cx="476.5" cy="525.9" r="2.15"/>
<circle cx="488.2" cy="526.9" r="2.15"/>
<circle cx="498.2" cy="525.3" r="2.15"/>
<circle cx="496.6" cy="529.8" r="2.15"/>
<circle cx="502.2" cy="529.8" r="2.15"/>
<circle cx="539.9" cy="526.9" r="2.15"/>
<circle cx="473.5" cy="536.4" r="2.15"/>
<circle cx="470.7" cy="546.4" r="2.15"/>
<circle cx="407.8" cy="613.2" r="2.15"/>
<circle cx="421.9" cy="564.5" r="2.15"/>
<circle cx="439.1" cy="575.9" r="2.15"/>
<circle cx="447.8" cy="578.7" r="2.15"/>
<circle cx="453.4" cy="572.9" r="2.15"/>
<circle cx="464.8" cy="578.7" r="2.15"/>
<circle cx="508" cy="560" r="2.15"/>
<circle cx="485.2" cy="570.1" r="2.15"/>
<circle cx="488.2" cy="570.1" r="2.15"/>
<circle cx="470.7" cy="595.7" r="2.15"/>
<circle cx="473.7" cy="593.7" r="2.15"/>
<circle cx="476.5" cy="593.3" r="2.15"/>
<circle cx="292.5" cy="604.7" r="2.15"/>
<circle cx="307" cy="607.8" r="2.15"/>
<circle cx="305.3" cy="603.4" r="2.15"/>
</g>
<g stroke="#000" stroke-width="1.25" fill="none">
<line x1="349.25" y1="643.5" x2="424.25" y2="12.2"/>
<line x1="307.5" y1="643.5" x2="459.1" y2="14"/>
<line x1="263.25" y1="643.5" x2="505.4" y2="85.4"/>
<line x1="230" y1="501.4" x2="504.5" y2="26.5"/>
<line x1="231.5" y1="507.3" x2="503" y2="144.9"/>
<line x1="229.5" y1="539.8" x2="504.5" y2="37.3"/>
<line x1="229.5" y1="552.3" x2="504.1" y2="12.7"/>
<line x1="229.5" y1="578.6" x2="504.4" y2="122.9"/>
<line x1="229" y1="622" x2="504.1" y2="12.7"/>
<line x1="229" y1="622.3" x2="504" y2="183.7"/>
<line x1="229" y1="632.3" x2="504.1" y2="12.7"/>
<line x1="229" y1="632.3" x2="504.4" y2="169"/>
</g>
<g stroke="#7d0000" stroke-width="5.2" fill="none">
<line x1="161.0" y1="635" x2="512.5" y2="61.3"/>
<line x1="307.4" y1="639" x2="459.5" y2="13.5"/>
</g>
<g stroke="#111" fill="none">
<line x1="51.5" y1="12.2" x2="51.5" y2="644.7" stroke-width="1.2" stroke="#333"/>
<line x1="51" y1="644.3" x2="683.7" y2="644.3" stroke-width="1.35" stroke="#000"/>
<line x1="79.75" y1="644.3" x2="79.75" y2="654.70" stroke-width="1.5" stroke="#000"/>
<line x1="42.10" y1="616.00" x2="51.5" y2="616.00" stroke-width="1.5" stroke="#000"/>
<line x1="151.62" y1="644.3" x2="151.62" y2="649.70" stroke-width="1.5" stroke="#000"/>
<line x1="47.10" y1="544.12" x2="51.5" y2="544.12" stroke-width="1.5" stroke="#000"/>
<line x1="223.50" y1="644.3" x2="223.50" y2="654.70" stroke-width="1.5" stroke="#000"/>
<line x1="42.10" y1="472.25" x2="51.5" y2="472.25" stroke-width="1.5" stroke="#000"/>
<line x1="295.38" y1="644.3" x2="295.38" y2="649.70" stroke-width="1.5" stroke="#000"/>
<line x1="47.10" y1="400.38" x2="51.5" y2="400.38" stroke-width="1.5" stroke="#000"/>
<line x1="367.25" y1="644.3" x2="367.25" y2="654.70" stroke-width="1.5" stroke="#000"/>
<line x1="42.10" y1="328.50" x2="51.5" y2="328.50" stroke-width="1.5" stroke="#000"/>
<line x1="439.12" y1="644.3" x2="439.12" y2="649.70" stroke-width="1.5" stroke="#000"/>
<line x1="47.10" y1="256.62" x2="51.5" y2="256.62" stroke-width="1.5" stroke="#000"/>
<line x1="511.00" y1="644.3" x2="511.00" y2="654.70" stroke-width="1.5" stroke="#000"/>
<line x1="42.10" y1="184.75" x2="51.5" y2="184.75" stroke-width="1.5" stroke="#000"/>
<line x1="582.88" y1="644.3" x2="582.88" y2="649.70" stroke-width="1.5" stroke="#000"/>
<line x1="47.10" y1="112.88" x2="51.5" y2="112.88" stroke-width="1.5" stroke="#000"/>
<line x1="654.75" y1="644.3" x2="654.75" y2="654.70" stroke-width="1.5" stroke="#000"/>
<line x1="42.10" y1="41.00" x2="51.5" y2="41.00" stroke-width="1.5" stroke="#000"/>
</g>
<g font-family="'Liberation Sans', Arial, sans-serif" font-size="20.8" fill="#000" stroke="#000" stroke-width="0.3">
<text transform="translate(78.8,682.8) scale(0.86,1)" text-anchor="middle">-1.0</text>
<text transform="translate(31.6,626.1) scale(0.86,1)" text-anchor="end">-1.0</text>
<text transform="translate(222.6,682.8) scale(0.86,1)" text-anchor="middle">-0.5</text>
<text transform="translate(31.6,482.4) scale(0.86,1)" text-anchor="end">-0.5</text>
<text transform="translate(366.4,682.8) scale(0.86,1)" text-anchor="middle">0.0</text>
<text transform="translate(31.6,338.6) scale(0.86,1)" text-anchor="end">0.0</text>
<text transform="translate(510.1,682.8) scale(0.86,1)" text-anchor="middle">0.5</text>
<text transform="translate(31.6,194.8) scale(0.86,1)" text-anchor="end">0.5</text>
<text transform="translate(653.9,682.8) scale(0.86,1)" text-anchor="middle">1.0</text>
<text transform="translate(31.6,51.1) scale(0.86,1)" text-anchor="end">1.0</text>
</g>
<g font-family="'Liberation Serif', 'Times New Roman', serif" font-weight="bold" font-size="15" fill="#000">
<text x="90.6" y="34.8">Pro-gag</text>
<text x="566.2" y="559" letter-spacing="-0.08">Anti-gag</text>
</g>
<g font-family="'Liberation Sans', Arial, sans-serif" font-weight="bold" font-size="12" fill="#000">
<text x="420" y="9.9" letter-spacing="0.2">Pinckney gag</text>
<text x="507.5" y="54.7" letter-spacing="0.67">Gag repeal</text>
</g>
</svg>
</body></html>
